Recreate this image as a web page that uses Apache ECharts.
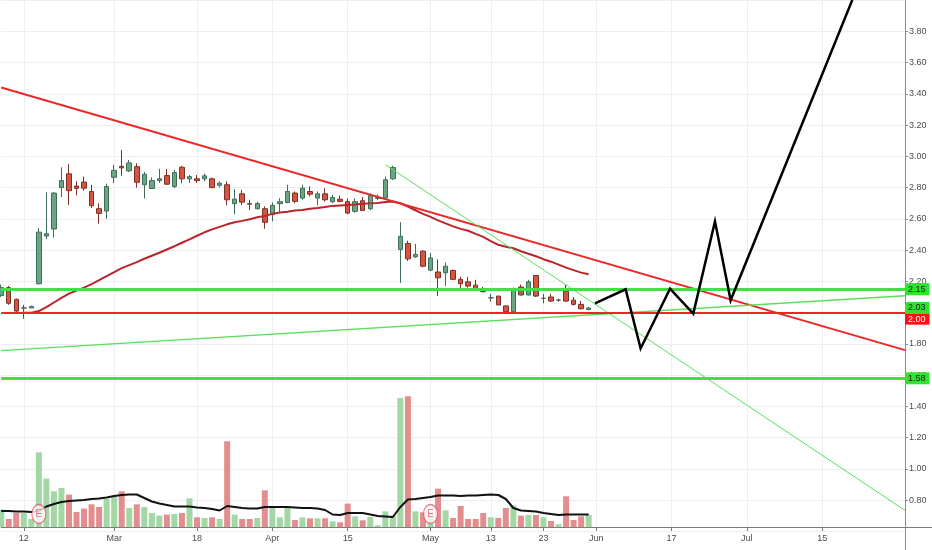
<!DOCTYPE html>
<html lang="en">
<head>
<meta charset="UTF-8">
<title>Price chart</title>
<script src="https://cdn.jsdelivr.net/npm/echarts@6/dist/echarts.min.js"></script>
<style type="text/css">
body{margin:0; padding:0; background:#fff;}
#main{width:932px; height:550px;}
</style>
</head>
<body>
<div id="main"></div>
<script type="text/javascript">
// trading days, Feb 7 - Jul 30 2019 (TSX calendar, future days are plain weekdays)
var febDays = ['07','08','11','12','13','14','15','19','20','21','22','25','26','27','28'];
var marDays = ['01','04','05','06','07','08','11','12','13','14','15','18','19','20','21','22','25','26','27','28','29'];
var aprDays = ['01','02','03','04','05','08','09','10','11','12','15','16','17','18','22','23','24','25','26','29','30'];
var mayDays = ['01','02','03','06','07','08','09','10','13','14','15','16','17','21','22','23','24','27','28','29','30','31'];
var junDays = ['03','04','05','06','07','10','11','12','13','14','17','18','19','20','21','24','25','26','27','28'];
var julDays = ['01','02','03','04','05','08','09','10','11','12','15','16','17','18','19','22','23','24','25','26','29','30'];

// x axis labels: category index -> text
var tickIdx  = [3, 15, 26, 36, 46, 57, 65, 72, 79, 89, 99, 109];
var tickText = ['12', 'Mar', '18', 'Apr', '15', 'May', '13', '23', 'Jun', '17', 'Jul', '15'];

// [open, close, low, high]
var candles = [
  [2.11,2.16,2.10,2.18],[2.16,2.06,2.05,2.17],[2.085,2.01,2.00,2.09],[2.03,2.03,1.96,2.05],
  [2.03,2.04,2.03,2.045],[2.185,2.515,2.18,2.54],[2.49,2.505,2.47,2.77],[2.535,2.765,2.48,2.77],
  [2.80,2.845,2.74,2.93],[2.888,2.78,2.69,2.95],[2.81,2.795,2.75,2.84],[2.835,2.796,2.78,2.87],
  [2.775,2.684,2.67,2.818],[2.665,2.635,2.57,2.70],[2.65,2.807,2.60,2.825],[2.866,2.91,2.83,2.945],
  [2.936,2.926,2.875,3.04],[2.907,2.958,2.90,2.977],[2.934,2.834,2.80,2.955],[2.818,2.885,2.73,2.90],
  [2.794,2.845,2.794,2.866],[2.845,2.856,2.83,2.92],[2.877,2.822,2.818,2.92],[2.807,2.896,2.796,2.913],
  [2.93,2.856,2.828,2.94],[2.856,2.87,2.83,2.88],[2.856,2.845,2.83,2.88],[2.856,2.875,2.84,2.89],
  [2.856,2.80,2.796,2.864],[2.815,2.828,2.80,2.84],[2.818,2.722,2.686,2.84],[2.697,2.726,2.63,2.79],
  [2.76,2.707,2.69,2.786],[2.697,2.694,2.655,2.722],[2.665,2.698,2.66,2.71],[2.665,2.578,2.537,2.68],
  [2.627,2.686,2.584,2.705],[2.697,2.71,2.643,2.732],[2.705,2.775,2.70,2.818],[2.765,2.712,2.70,2.775],
  [2.733,2.796,2.722,2.818],[2.775,2.758,2.743,2.807],[2.733,2.76,2.686,2.775],[2.76,2.722,2.711,2.796],
  [2.71,2.737,2.70,2.754],[2.726,2.712,2.705,2.75],[2.71,2.637,2.63,2.73],[2.648,2.71,2.64,2.73],
  [2.716,2.654,2.65,2.74],[2.665,2.75,2.654,2.764],[2.73,2.737,2.72,2.755],[2.733,2.85,2.73,2.87],
  [2.856,2.928,2.85,2.94],[2.404,2.488,2.19,2.578],[2.442,2.344,2.33,2.46],[2.357,2.372,2.35,2.44],
  [2.393,2.297,2.29,2.40],[2.272,2.35,2.266,2.382],[2.26,2.223,2.106,2.34],[2.255,2.297,2.17,2.32],
  [2.27,2.213,2.208,2.276],[2.213,2.185,2.14,2.23],[2.197,2.17,2.16,2.23],[2.176,2.155,2.15,2.21],
  [2.153,2.134,2.13,2.165],[2.095,2.095,2.07,2.12],[2.106,2.049,2.049,2.106],[2.043,2.006,2.00,2.045],
  [2.006,2.155,2.00,2.16],[2.164,2.113,2.11,2.18],[2.113,2.197,2.11,2.21],[2.238,2.106,2.10,2.24],
  [2.092,2.092,2.06,2.12],[2.10,2.074,2.07,2.12],[2.08,2.08,2.07,2.09],[2.138,2.074,2.07,2.18],
  [2.08,2.053,2.045,2.10],[2.053,2.025,2.02,2.075],[2.02,2.03,2.015,2.035]
];

// price moving average
var priceMA = [
  null,null,null,2.00,2.00,2.01,2.036,2.065,2.094,2.122,
  2.141,2.16,2.183,2.208,2.234,2.259,2.285,2.304,2.323,2.345,
  2.364,2.383,2.404,2.425,2.447,2.469,2.492,2.514,2.533,2.549,
  2.565,2.578,2.587,2.597,2.61,2.619,2.632,2.641,2.645,2.654,
  2.657,2.664,2.669,2.676,2.683,2.686,2.689,2.692,2.696,2.699,
  2.702,2.708,2.711,2.70,2.678,2.655,2.632,2.613,2.590,2.571,
  2.552,2.536,2.524,2.504,2.485,2.457,2.434,2.422,2.412,2.393,
  2.377,2.361,2.342,2.326,2.307,2.288,2.272,2.256,2.246
];

// volume (thousands) and its average
var volume = [
  174,80,140,140,80,747,484,357,390,324,
  150,184,227,200,280,300,357,190,227,200,
  140,114,124,130,140,287,97,90,97,80,
  857,124,80,80,90,367,190,97,190,70,
  97,87,87,87,57,47,234,107,67,100,
  17,157,107,1290,1307,157,147,130,384,167,
  90,210,80,80,140,97,90,190,217,114,
  120,120,97,60,27,307,70,107,120
];
var volumeMA = [
  160,160,155,155,150,160,205,230,250,260,
  265,270,280,285,295,310,320,325,325,290,
  255,235,220,205,205,205,195,190,180,165,
  210,200,190,185,185,200,200,200,200,195,
  190,190,185,170,125,120,140,140,140,125,
  110,105,100,200,275,280,290,300,315,315,
  315,310,315,315,320,325,320,280,190,165,
  160,155,140,130,120,125,125,125,125
];
var earningsIdx = [5, 57];
var earningsLevel = 130;

// drawn lines, [bar index, price]
var redTrend   = [[0, 3.44], [120, 1.76]];
var greenDown  = [[51, 2.947], [120, 0.735]];
var greenUp    = [[0, 1.757], [120, 2.108]];
var forecast   = [[78.84, 2.06], [82.91, 2.149], [84.9, 1.771], [88.8, 2.153], [91.89, 1.994],
                  [94.77, 2.584], [96.85, 2.079], [113, 4.0]];
var greenLevels = [2.15, 1.58];
var redLevels   = [2.00];

var dates = [];
[['02',febDays],['03',marDays],['04',aprDays],['05',mayDays],['06',junDays],['07',julDays]].forEach(function(m) {
    m[1].forEach(function(d) { dates.push('2019-' + m[0] + '-' + d); });
});

function isTick(i) { return tickIdx.indexOf(i) >= 0; }

var upColor = '#6ba583', downColor = '#d75442';
var volData = volume.map(function(v, i) {
    var c = candles[i];
    return {value: v, itemStyle: {color: c[1] >= c[0] ? '#a3d8a5' : '#e38e8e'}};
});
var lastClose = candles[candles.length - 1][1];

function levelLabel(bg, fg, va) {
    return {
        show: true, position: 'end', distance: 0,
        formatter: function(p) { return p.value.toFixed(2); },
        backgroundColor: bg, color: fg, fontSize: 9, opacity: 1,
        fontFamily: 'Liberation Sans, Arial, sans-serif',
        padding: [2, 4, 1, 3], verticalAlign: va
    };
}

var levelMarks = [];
greenLevels.forEach(function(v) {
    levelMarks.push({yAxis: v, lineStyle: {color: '#45de45', width: 3, type: 'solid'},
                     label: levelLabel('#2fe42f', '#1a1a1a', 'middle')});
});
redLevels.forEach(function(v) {
    levelMarks.push({yAxis: v, lineStyle: {color: '#f02424', width: 2, type: 'solid'},
                     label: levelLabel('#ff1010', '#ffffff', 'top')});
});
// last price tag, no line
levelMarks.push({yAxis: lastClose, lineStyle: {color: 'rgba(0,0,0,0)', width: 1, type: 'solid'},
                 label: levelLabel('#2fe42f', '#1a1a1a', 'middle')});

var myChart = echarts.init(document.getElementById('main'));
var option = {
    animation: false,
    backgroundColor: '#ffffff',
    textStyle: {fontFamily: 'Liberation Sans, Arial, sans-serif'},
    grid: [
        {left: 1.2, right: 27, top: -2.3, bottom: 18.5},
        {left: 1.2, right: 27, top: 380, bottom: 23}
    ],
    xAxis: [
        {
            type: 'category', gridIndex: 0, data: dates, boundaryGap: false,
            axisLine: {show: false}, axisTick: {show: false}, axisLabel: {show: false},
            splitLine: {show: true, interval: isTick, lineStyle: {color: '#eeeef2'}}
        },
        {type: 'value', gridIndex: 0, min: 0, max: dates.length - 1, show: false,
         axisLine: {onZero: false}},
        {
            type: 'category', gridIndex: 1, data: dates, boundaryGap: false,
            axisLine: {show: true, onZero: false, lineStyle: {color: '#7d7d7d'}},
            axisTick: {show: true, interval: isTick, length: 4, lineStyle: {color: '#7d7d7d'}},
            axisLabel: {
                interval: isTick, color: '#4c4c4c', fontSize: 9, margin: 7,
                formatter: function(v, i) { var k = tickIdx.indexOf(i); return k >= 0 ? tickText[k] : ''; }
            },
            splitLine: {show: false}
        }
    ],
    yAxis: [
        {
            type: 'value', gridIndex: 0, position: 'right', min: 0.6, max: 4.0, interval: 0.2,
            axisLine: {show: true, onZero: false, lineStyle: {color: '#8a8a8a'}},
            axisTick: {show: true, length: 3, lineStyle: {color: '#8a8a8a'}},
            axisLabel: {
                color: '#4c4c4c', fontSize: 9, margin: 4, showMinLabel: false, showMaxLabel: false,
                formatter: function(v) { return v.toFixed(2); }
            },
            splitLine: {show: true, lineStyle: {color: '#eeeef2'}}
        },
        {type: 'value', gridIndex: 1, min: 0, max: 1470, show: false, axisLine: {onZero: false}}
    ],
    graphic: [
        {type: 'line', shape: {x1: 905, y1: 527.5, x2: 932, y2: 527.5}, style: {stroke: '#7d7d7d', lineWidth: 1}},
        {type: 'line', shape: {x1: 905.5, y1: 531, x2: 905.5, y2: 550}, style: {stroke: '#8a8a8a', lineWidth: 1}}
    ],
    series: [
        {
            name: 'Volume', type: 'bar', xAxisIndex: 2, yAxisIndex: 1,
            barWidth: 6, data: volData, z: 1
        },
        {
            name: 'Volume MA', type: 'line', xAxisIndex: 2, yAxisIndex: 1,
            data: volumeMA, showSymbol: false, symbol: 'none',
            lineStyle: {color: '#111111', width: 2}, z: 2
        },
        {
            name: 'Earnings', type: 'scatter', xAxisIndex: 2, yAxisIndex: 1,
            data: earningsIdx.map(function(i) { return [i, earningsLevel]; }),
            symbol: 'circle', symbolSize: [14, 19],
            itemStyle: {color: '#fffafa', borderColor: '#e0566b', borderWidth: 1.2},
            label: {show: true, position: 'inside', formatter: 'E', color: '#e0566b', fontSize: 10},
            z: 4
        },
        {
            name: 'Price', type: 'candlestick', xAxisIndex: 0, yAxisIndex: 0,
            data: candles, barWidth: 5,
            itemStyle: {
                color: upColor, color0: downColor,
                borderColor: '#3f6e56', borderColor0: '#7a3226', borderColorDoji: '#555555',
                borderWidth: 1
            },
            z: 2
        },
        {
            name: 'MA', type: 'line', xAxisIndex: 0, yAxisIndex: 0,
            data: priceMA, showSymbol: false, symbol: 'none',
            lineStyle: {color: '#b8262b', width: 2}, z: 3
        },
        {
            name: 'Levels', type: 'line', xAxisIndex: 1, yAxisIndex: 0, data: [],
            markLine: {silent: true, symbol: ['none', 'none'], data: levelMarks},
            z: 3
        },
        {
            name: 'Trend down', type: 'line', xAxisIndex: 1, yAxisIndex: 0,
            data: redTrend, showSymbol: false, symbol: 'none',
            lineStyle: {color: '#ea2828', width: 2}, z: 4
        },
        {
            name: 'Channel down', type: 'line', xAxisIndex: 1, yAxisIndex: 0,
            data: greenDown, showSymbol: false, symbol: 'none',
            lineStyle: {color: '#5ae05a', width: 1}, z: 4
        },
        {
            name: 'Support up', type: 'line', xAxisIndex: 1, yAxisIndex: 0,
            data: greenUp, showSymbol: false, symbol: 'none',
            lineStyle: {color: '#5ae05a', width: 1.3}, z: 4
        },
        {
            name: 'Forecast', type: 'line', xAxisIndex: 1, yAxisIndex: 0,
            data: forecast, showSymbol: false, symbol: 'none',
            lineStyle: {color: '#000000', width: 2.5, join: 'miter'}, z: 5
        }
    ]
};
myChart.setOption(option);
</script>
</body>
</html>
